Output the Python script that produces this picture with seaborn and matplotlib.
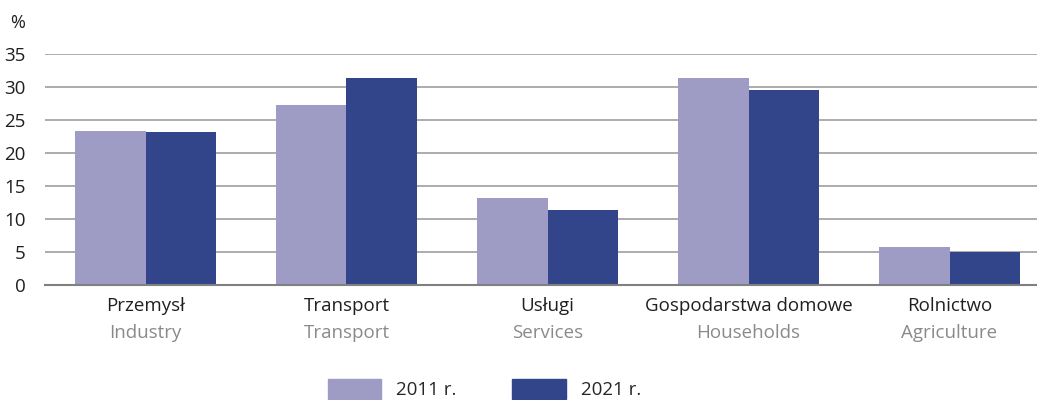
import seaborn as sns
import matplotlib.pyplot as plt
import matplotlib.patches as mpatches
import matplotlib.transforms as mtransforms
import pandas as pd

# data (%)
categories_pl = ["Przemysł", "Transport", "Usługi", "Gospodarstwa domowe", "Rolnictwo"]
categories_en = ["Industry", "Transport", "Services", "Households", "Agriculture"]
years = ["2011 r.", "2021 r."]
share_2011 = [23.3, 27.2, 13.2, 31.4, 5.8]
share_2021 = [23.2, 31.4, 11.4, 29.5, 5.0]
yticks = [0, 5, 10, 15, 20, 25, 30, 35]

colors = ["#9e9cc5", "#32458a"]

df = pd.DataFrame({
    "cat": categories_pl * 2,
    "year": [years[0]] * 5 + [years[1]] * 5,
    "value": share_2011 + share_2021,
})

sns.set_style("white")
plt.rcParams["font.family"] = ["Open Sans", "DejaVu Sans"]

fig = plt.figure(figsize=(10.37, 4.0), dpi=100)
ax = fig.add_axes([45 / 1037, 114.7 / 400, 992 / 1037, 231.6 / 400])

sns.barplot(data=df, x="cat", y="value", hue="year", palette=colors,
            width=0.7, saturation=1, linewidth=0, ax=ax, legend=False)

ax.set_ylim(0, 35)
ax.set_xlim(-0.5, -0.5 + 992 / 201)
ax.set_yticks(yticks)
ax.set_yticklabels([str(t) for t in yticks])
ax.yaxis.grid(True, color="#a6a6a6", linewidth=1.3)
ax.set_axisbelow(True)
for s in ["top", "right", "left"]:
    ax.spines[s].set_visible(False)
ax.spines["bottom"].set_color("#808080")
ax.spines["bottom"].set_linewidth(1.5)
ax.tick_params(axis="y", length=0, labelsize=13.5, pad=14, colors="#231f20")
ax.tick_params(axis="x", length=0, labelsize=13.5, pad=8.5, colors="#231f20")
ax.set_xlabel("")
ax.set_ylabel("")

# English labels under the Polish ones
trans = mtransforms.blended_transform_factory(ax.transData, ax.transAxes)
for i, en in enumerate(categories_en):
    ax.text(i, -0.205, en, transform=trans, ha="center", va="center",
            fontsize=13.5, color="#8a8a8a")

fig.text(10 / 1037, 1 - 23 / 400, "%", fontsize=13, color="#231f20",
         ha="left", va="center")

handles = [mpatches.Patch(color=c, label=y) for c, y in zip(colors, years)]
fig.legend(handles=handles, ncol=2, loc="center",
           bbox_to_anchor=(0.467, 1 - 389 / 400), frameon=False,
           fontsize=13.5, handlelength=2.83, handleheight=1.3,
           handletextpad=0.8, columnspacing=3.0, borderpad=0)

fig.savefig("out.png", dpi=100)
